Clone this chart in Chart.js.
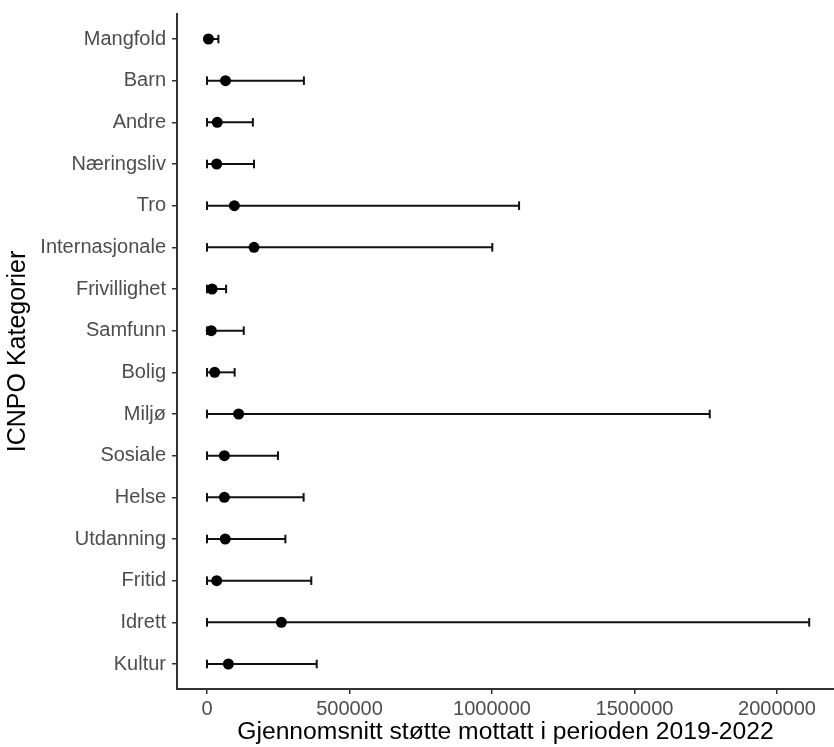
<!DOCTYPE html>
<html>
<head>
<meta charset="utf-8">
<script src="https://cdn.jsdelivr.net/npm/chart.js@4.4.1/dist/chart.umd.min.js"></script>
<style>
  html, body { margin: 0; padding: 0; background: #fff; }
  #wrap { width: 834px; height: 747px; }
</style>
</head>
<body>
<div id="wrap"><canvas id="errChart" width="834" height="747"></canvas></div>
<script>
// categories top to bottom
var categories = ['Mangfold', 'Barn', 'Andre', 'Næringsliv', 'Tro', 'Internasjonale', 'Frivillighet',
  'Samfunn', 'Bolig', 'Miljø', 'Sosiale', 'Helse', 'Utdanning', 'Fritid', 'Idrett', 'Kultur'];
// mean support (dots)
var means = [5000, 65000, 36000, 34000, 96000, 165000, 18000, 15000, 27000, 111000, 61000, 61000, 64000, 34000, 261000, 75000];
// error bar low / high ends
var lows = [0, 0, 0, 0, 0, 0, 0, 0, 0, 0, 0, 0, 0, 0, 0, 0];
var highs = [40000, 340000, 161000, 165000, 1095000, 1001000, 67000, 129000, 97000, 1764000, 249000, 339000, 275000, 366000, 2113000, 385000];
var xTicks = [0, 500000, 1000000, 1500000, 2000000];

var tickGrey = '#4d4d4d';
var axisCol = '#333333';
var fontFam = '"Liberation Sans", Arial, Helvetica, sans-serif';

var datasets = [];
// error bars, one little line per category
categories.forEach(function (c, i) {
  datasets.push({
    type: 'scatter',
    showLine: true,
    data: [{x: lows[i], y: i}, {x: highs[i], y: i}],
    borderColor: '#111',
    borderWidth: 2,
    pointStyle: 'line',
    rotation: 90,
    pointRadius: 4.3,
    pointBorderColor: '#111',
    pointBorderWidth: 2,
    order: 2
  });
});
// the means
datasets.push({
  type: 'scatter',
  data: means.map(function (m, i) { return {x: m, y: i}; }),
  backgroundColor: '#000',
  borderColor: '#000',
  pointRadius: 5.5,
  pointBorderWidth: 0,
  order: 1
});

var ctx = document.getElementById('errChart').getContext('2d');
var errChart = new Chart(ctx, {
  type: 'scatter',
  data: { datasets: datasets },
  options: {
    responsive: false,
    animation: false,
    events: [],
    layout: { autoPadding: false, padding: { top: 14, right: 0, left: 0, bottom: 0 } },
    plugins: {
      legend: { display: false },
      tooltip: { enabled: false }
    },
    scales: {
      x: {
        type: 'linear',
        min: -105263,
        max: 2200000,
        afterBuildTicks: function (scale) {
          scale.ticks = xTicks.map(function (v) { return {value: v}; });
        },
        afterFit: function (scale) {
          scale.height = 58;
          scale.paddingLeft = 0;
          scale.paddingRight = 0;
        },
        grid: { display: true, drawOnChartArea: false, drawTicks: true, tickLength: 5, color: axisCol, lineWidth: 1.5 },
        border: { display: true, color: axisCol, width: 2 },
        ticks: {
          color: tickGrey,
          padding: 3,
          maxRotation: 0,
          font: { family: fontFam, size: 20 },
          callback: function (v) { return String(v); }
        },
        title: {
          display: true,
          text: 'Gjennomsnitt støtte mottatt i perioden 2019-2022',
          color: '#000',
          font: { family: fontFam, size: 24.7 },
          padding: { top: 0, bottom: 0 }
        }
      },
      y: {
        type: 'linear',
        reverse: true,
        min: -0.6,
        max: categories.length - 1 + 0.6,
        afterBuildTicks: function (scale) {
          scale.ticks = categories.map(function (c, i) { return {value: i}; });
        },
        afterFit: function (scale) {
          scale.width = 177;
          scale.paddingTop = 0;
          scale.paddingBottom = 0;
        },
        grid: { display: true, drawOnChartArea: false, drawTicks: true, tickLength: 5, color: axisCol, lineWidth: 1.5 },
        border: { display: true, color: axisCol, width: 2 },
        ticks: {
          color: tickGrey,
          padding: 6,
          font: { family: fontFam, size: 20 },
          callback: function (v) { return categories[v]; }
        },
        title: {
          display: true,
          text: 'ICNPO Kategorier',
          color: '#000',
          font: { family: fontFam, size: 25 },
          padding: { top: 3, bottom: 0 }
        }
      }
    }
  }
});
</script>
</body>
</html>
